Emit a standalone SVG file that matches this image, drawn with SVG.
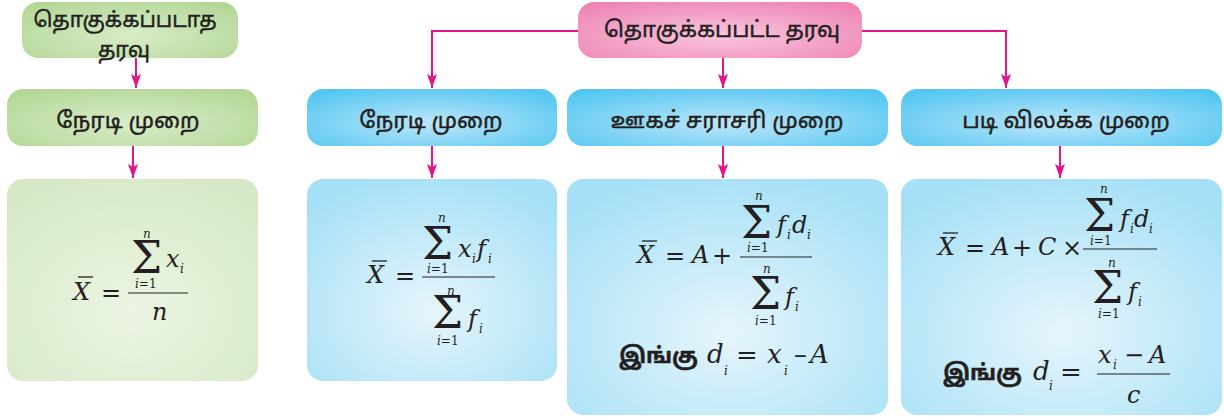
<svg xmlns="http://www.w3.org/2000/svg" width="1224" height="420" viewBox="0 0 1224 420">
<style>
.ta{font-family:"Noto Sans Tamil","Noto Sans","Lato",sans-serif;fill:#231f20;stroke:#231f20;stroke-width:0.45;}
.hd{font-size:22.5px;text-anchor:middle;}
.bd{font-size:22px;font-weight:bold;}
.m{font-family:"DejaVu Serif",serif;fill:#231f20;}
.mi{font-style:italic;}
.big{font-size:24px;}
.big2{font-size:26px;}
.sm{font-size:12px;}
.sig{font-size:44px;}
.frac{stroke:#231f20;stroke-width:1.2;}
.bar{stroke:#231f20;stroke-width:1.3;}
.con{fill:none;stroke:#e6138b;stroke-width:2;}
</style>
<defs>
<marker id="ah" markerUnits="userSpaceOnUse" viewBox="0 0 14 10" refX="14" refY="5" markerWidth="14" markerHeight="10" orient="auto">
<path d="M0,0 L14,5 L0,10 L3,5 z" fill="#e6138b"/>
</marker>
<radialGradient id="gHead" cx="0.5" cy="0.6" r="0.7"><stop offset="0" stop-color="#d8ecc8"/><stop offset="1" stop-color="#b3d796"/></radialGradient>
<radialGradient id="gBody" cx="0.5" cy="0.65" r="0.7"><stop offset="0" stop-color="#ecf5e3"/><stop offset="1" stop-color="#d6e9c6"/></radialGradient>
<radialGradient id="pHead" cx="0.5" cy="0.6" r="0.7"><stop offset="0" stop-color="#f9c6de"/><stop offset="1" stop-color="#ee84b4"/></radialGradient>
<radialGradient id="bHead" cx="0.5" cy="0.6" r="0.7"><stop offset="0" stop-color="#bde6f9"/><stop offset="1" stop-color="#52c6f1"/></radialGradient>
<radialGradient id="bBody" cx="0.5" cy="0.65" r="0.7"><stop offset="0" stop-color="#e6f5fc"/><stop offset="1" stop-color="#a5e0f6"/></radialGradient>
</defs>

<g id="connectors">
<path class="con" d="M578,31 H432 V88" marker-end="url(#ah)"/>
<path class="con" d="M862,31 H1006 V88" marker-end="url(#ah)"/>
<path class="con" d="M723,58 V88" marker-end="url(#ah)"/>
<path class="con" d="M136,58 V88" marker-end="url(#ah)"/>
<path class="con" d="M133,146 V178" marker-end="url(#ah)"/>
<path class="con" d="M432,146 V178" marker-end="url(#ah)"/>
<path class="con" d="M723,146 V178" marker-end="url(#ah)"/>
<path class="con" d="M1060,146 V178" marker-end="url(#ah)"/>
</g>

<g id="ungrouped">
<rect x="22" y="2" width="216" height="56" rx="16" fill="url(#gHead)"/>
<text class="ta hd" x="125" y="27" style="font-size:21px">தொகுக்கப்படாத</text>
<text class="ta hd" x="124" y="57" style="font-size:21px">தரவு</text>
</g>

<g id="grouped">
<rect x="578" y="2" width="284" height="56" rx="16" fill="url(#pHead)"/>
<text class="ta hd" x="722" y="37" style="font-size:22px">தொகுக்கப்பட்ட தரவு</text>
</g>

<g id="direct-ungrouped">
<rect x="7" y="89" width="251" height="57" rx="16" fill="url(#gHead)"/>
<text class="ta hd" x="128" y="128">நேரடி முறை</text>
</g>

<g id="direct-grouped">
<rect x="307" y="89" width="250" height="57" rx="16" fill="url(#bHead)"/>
<text class="ta hd" x="431" y="128">நேரடி முறை</text>
</g>

<g id="assumed-mean">
<rect x="567" y="89" width="321" height="57" rx="16" fill="url(#bHead)"/>
<text class="ta hd" x="727" y="128">ஊகச் சராசரி முறை</text>
</g>

<g id="step-deviation">
<rect x="901" y="89" width="321" height="57" rx="16" fill="url(#bHead)"/>
<text class="ta hd" x="1066" y="128">படி விலக்க முறை</text>
</g>

<g id="formula-ungrouped">
<rect x="7" y="179" width="251" height="202" rx="16" fill="url(#gBody)"/>
<text class="m mi big" x="73" y="300">X</text>
<line class="bar" x1="78" y1="277" x2="93" y2="277"/>
<text class="m big" x="101" y="301">=</text>
<text class="m sig" x="131" y="273">Σ</text>
<text class="m mi sm" x="143" y="238">n</text>
<text class="m sm" x="135" y="288"><tspan class="mi">i</tspan>=1</text>
<text class="m mi big" x="166" y="267">x</text>
<text class="m mi sm" x="180" y="273">i</text>
<line class="frac" x1="128" y1="293" x2="188" y2="293"/>
<text class="m mi big" x="152" y="320">n</text>
</g>

<g id="formula-direct">
<rect x="307" y="179" width="250" height="202" rx="16" fill="url(#bBody)"/>
<text class="m mi big" x="367" y="283">X</text>
<line class="bar" x1="372" y1="261" x2="387" y2="261"/>
<text class="m big" x="395" y="284">=</text>
<text class="m sig" x="422" y="259">Σ</text>
<text class="m mi sm" x="438" y="222">n</text>
<text class="m sm" x="427" y="273"><tspan class="mi">i</tspan>=1</text>
<text class="m mi big" x="458" y="257">x</text>
<text class="m mi sm" x="472" y="263">i</text>
<text class="m mi big" x="477" y="257">f</text>
<text class="m mi sm" x="488" y="263">i</text>
<line class="frac" x1="422" y1="277" x2="495" y2="277"/>
<text class="m sig" x="432" y="328">Σ</text>
<text class="m mi sm" x="447" y="295">n</text>
<text class="m sm" x="437" y="345"><tspan class="mi">i</tspan>=1</text>
<text class="m mi big" x="468" y="327">f</text>
<text class="m mi sm" x="479" y="333">i</text>
</g>

<g id="formula-assumed">
<rect x="567" y="179" width="321" height="236" rx="16" fill="url(#bBody)"/>
<text class="m mi big" x="637" y="263">X</text>
<line class="bar" x1="642" y1="241" x2="657" y2="241"/>
<text class="m big" x="665" y="264">=</text>
<text class="m mi big" x="692" y="263">A</text>
<text class="m big" x="712" y="264">+</text>
<text class="m sig" x="741" y="238">Σ</text>
<text class="m mi sm" x="755" y="200">n</text>
<text class="m sm" x="747" y="252"><tspan class="mi">i</tspan>=1</text>
<text class="m mi big" x="777" y="233">f</text>
<text class="m mi sm" x="787" y="239">i</text>
<text class="m mi big" x="792" y="233">d</text>
<text class="m mi sm" x="807" y="239">i</text>
<line class="frac" x1="740" y1="257" x2="812" y2="257"/>
<text class="m sig" x="750" y="309">Σ</text>
<text class="m mi sm" x="763" y="273">n</text>
<text class="m sm" x="755" y="325"><tspan class="mi">i</tspan>=1</text>
<text class="m mi big" x="785" y="305">f</text>
<text class="m mi sm" x="795" y="311">i</text>
<text class="ta bd" x="619" y="363">இங்கு</text>
<text class="m mi big2" x="707" y="363">d</text>
<text class="m mi sm" x="724" y="375">i</text>
<text class="m big2" x="736" y="364">=</text>
<text class="m mi big2" x="767" y="363">x</text>
<text class="m mi sm" x="784" y="375">i</text>
<text class="m big2" x="794" y="363">–</text>
<text class="m mi big2" x="810" y="363">A</text>
</g>

<g id="formula-step">
<rect x="901" y="179" width="321" height="236" rx="16" fill="url(#bBody)"/>
<text class="m mi big" x="938" y="255">X</text>
<line class="bar" x1="943" y1="233" x2="958" y2="233"/>
<text class="m big" x="965" y="256">=</text>
<text class="m mi big" x="992" y="255">A</text>
<text class="m big" x="1012" y="256">+</text>
<text class="m mi big" x="1038" y="255">C</text>
<text class="m big" x="1062" y="256">×</text>
<text class="m sig" x="1084" y="231">Σ</text>
<text class="m mi sm" x="1100" y="193">n</text>
<text class="m sm" x="1090" y="245"><tspan class="mi">i</tspan>=1</text>
<text class="m mi big" x="1120" y="227">f</text>
<text class="m mi sm" x="1130" y="233">i</text>
<text class="m mi big" x="1134" y="227">d</text>
<text class="m mi sm" x="1149" y="233">i</text>
<line class="frac" x1="1083" y1="249" x2="1157" y2="249"/>
<text class="m sig" x="1092" y="303">Σ</text>
<text class="m mi sm" x="1108" y="267">n</text>
<text class="m sm" x="1098" y="318"><tspan class="mi">i</tspan>=1</text>
<text class="m mi big" x="1128" y="300">f</text>
<text class="m mi sm" x="1138" y="306">i</text>
<text class="ta bd" x="943" y="380">இங்கு</text>
<text class="m mi big2" x="1033" y="380">d</text>
<text class="m mi sm" x="1049" y="390">i</text>
<text class="m big2" x="1060" y="381">=</text>
<text class="m mi big" x="1098" y="363">x</text>
<text class="m mi sm" x="1113" y="369">i</text>
<text class="m big" x="1124" y="363">−</text>
<text class="m mi big" x="1149" y="363">A</text>
<line class="frac" x1="1097" y1="374" x2="1170" y2="374"/>
<text class="m mi big" x="1127" y="403">c</text>
</g>
</svg>
